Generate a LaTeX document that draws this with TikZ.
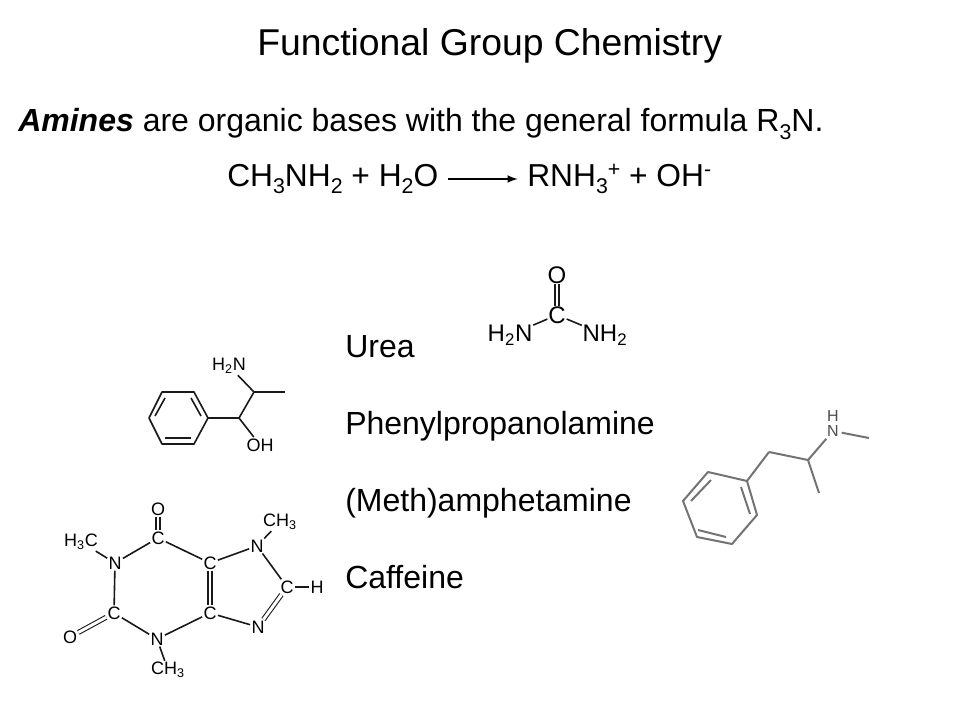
\documentclass[tikz,border=0pt]{standalone}
\usepackage{fontspec}
\setmainfont{Liberation Sans}
\newcommand{\lowidx}[1]{\raisebox{-5.5pt}{\fontsize{16}{16}\selectfont #1}}
\newcommand{\highidx}[1]{\raisebox{7pt}{\fontsize{16}{16}\selectfont #1}}
\tikzset{
  txt/.style={anchor=base west,inner sep=0pt,font=\fontsize{24}{28}\selectfont},
  eqn/.style={anchor=west,inner sep=0pt,text height=18pt,text depth=7pt,font=\fontsize{23.8}{28}\selectfont},
  ureaatom/.style={inner sep=0.5pt,font=\fontsize{18}{20}\selectfont},
  ppaatom/.style={inner sep=1pt,font=\fontsize{13.5}{15}\selectfont},
  cafatom/.style={inner sep=0.8pt,font=\fontsize{13.5}{15}\selectfont},
  methatom/.style={inner sep=0pt,text=black!70,font=\fontsize{12}{14}\selectfont},
  bond/.style={line width=1.2pt,color=black!90},
  dbl/.style={line width=0.8pt,double distance=2.2pt,color=black!90},
  methbond/.style={line width=1.5pt,color=black!55}
}

\begin{document}
\begin{tikzpicture}[x=0.75pt,y=0.75pt,yscale=-1,xscale=1]
\useasboundingbox (0,0) rectangle (960,720);

% Text Node
\node (title) [anchor=base west,inner sep=0pt,font=\fontsize{28}{32}\selectfont] at (257,56) {Functional Group Chemistry};
% Text Node
\node (intro) [txt] at (18,132) {\textbf{\textit{Amines}} are organic bases with the general formula R\lowidx{3}N.};
% Text Node
\node (lhs) [eqn] at (227,179) {CH\lowidx{3}NH\lowidx{2} + H\lowidx{2}O};
% Text Node
\node (rhs) [eqn] at (527,179) {RNH\lowidx{3}\highidx{+} + OH\highidx{-}};
\draw [line width=1.6pt,-latex,shorten <=7pt,shorten >=7pt] (lhs.east) -- (rhs.west);

% Text Node
\node (urealabel) [txt] at (345,357) {Urea};
% Text Node
\node (ppalabel) [txt] at (345,434) {Phenylpropanolamine};
% Text Node
\node (methlabel) [txt] at (345,511) {(Meth)amphetamine};
% Text Node
\node (caflabel) [txt] at (345,588) {Caffeine};

%Shape: Urea
\node (uc) [ureaatom] at (557,315) {C};
\node (uo) [ureaatom] at (557,275) {O};
\node (un1) [ureaatom] at (510,335) {H\textsubscript{2}N};
\node (un2) [ureaatom] at (605,335) {NH\textsubscript{2}};
\draw [dbl] (uc) -- (uo);
\draw [bond] (uc) -- (un1);
\draw [bond] (uc) -- (un2);

%Shape: Phenylpropanolamine
\coordinate (p1) at (149,418);
\coordinate (p2) at (162,392);
\coordinate (p3) at (194,392);
\coordinate (p4) at (208,418);
\coordinate (p5) at (194,444);
\coordinate (p6) at (162,444);
\coordinate (pa) at (239,418);
\coordinate (pb) at (254,392);
\coordinate (pc) at (285,392);
\node (pn) [ppaatom] at (229,366) {H\textsubscript{2}N};
\node (po) [ppaatom] at (260,445) {OH};
\draw [bond,line join=round] (p1) -- (p2) -- (p3) -- (p4) -- (p5) -- (p6) -- cycle;
\draw [bond] (p4) -- (pa);
\draw [bond] (pa) -- (pb);
\draw [bond] (pb) -- (pc);
\draw [bond] (pb) -- (pn);
\draw [bond] (pa) -- (po);
\coordinate (pi1) at (155,416);
\coordinate (pi2) at (165,398);
\coordinate (pi3) at (191,398);
\coordinate (pi4) at (201,416);
\coordinate (pi5) at (191,438);
\coordinate (pi6) at (165,438);
\draw [bond] (pi1) -- (pi2);
\draw [bond] (pi3) -- (pi4);
\draw [bond] (pi5) -- (pi6);

%Shape: Caffeine
\node (co1) [cafatom] at (158,509) {O};
\node (cc1) [cafatom] at (158,538) {C};
\node (cn1) [cafatom] at (115,563) {N};
\node (cc2) [cafatom] at (114,613) {C};
\node (co2) [cafatom] at (70,637) {O};
\node (cn2) [cafatom] at (157,639) {N};
\node (cm2) [cafatom] at (168,670) {CH\textsubscript{3}};
\node (cm1) [cafatom] at (81,542) {H\textsubscript{3}C};
\node (cc3) [cafatom] at (210,563) {C};
\node (cc4) [cafatom] at (210,613) {C};
\node (cn3) [cafatom] at (257,546) {N};
\node (cm3) [cafatom] at (280,522) {CH\textsubscript{3}};
\node (cc5) [cafatom] at (287,587) {C};
\node (ch) [cafatom] at (317,587) {H};
\node (cn4) [cafatom] at (258,627) {N};
\draw [dbl] (cc1) -- (co1);
\draw [bond] (cc1) -- (cn1);
\draw [bond] (cn1) -- (cc2);
\draw [dbl] (cc2) -- (co2);
\draw [bond] (cc2) -- (cn2);
\draw [bond] (cn2) -- (cc4);
\draw [bond] (cn2) -- (cm2);
\draw [bond] (cn1) -- (cm1);
\draw [bond] (cc1) -- (cc3);
\draw [dbl] (cc3) -- (cc4);
\draw [bond] (cc3) -- (cn3);
\draw [bond] (cn3) -- (cm3);
\draw [bond] (cn3) -- (cc5);
\draw [bond] (cc5) -- (ch);
\draw [dbl] (cc5) -- (cn4);
\draw [bond] (cn4) -- (cc4);

%Shape: Methamphetamine
\coordinate (m1) at (683,501);
\coordinate (m2) at (708,472);
\coordinate (m3) at (747,481);
\coordinate (m4) at (757,515);
\coordinate (m5) at (732,544);
\coordinate (m6) at (697,537);
\coordinate (ma) at (769,452);
\coordinate (mb) at (808,460);
\coordinate (mc) at (819,493);
\coordinate (md) at (869,438);
\node (mn) [methatom] at (833,431) {N};
\node (mh) [methatom] at (833,416) {H};
\draw [methbond,line join=round] (m1) -- (m2) -- (m3) -- (m4) -- (m5) -- (m6) -- cycle;
\draw [methbond] (m3) -- (ma);
\draw [methbond] (ma) -- (mb);
\draw [methbond] (mb) -- (mc);
\draw [methbond,shorten >=2pt] (mb) -- (mn);
\draw [methbond,shorten <=2pt] (mn) -- (md);
\coordinate (mi1) at (691,501);
\coordinate (mi2) at (711,480);
\coordinate (mi3) at (741,487);
\coordinate (mi4) at (750,514);
\coordinate (mi5) at (726,537);
\coordinate (mi6) at (698,530);
\draw [methbond] (mi1) -- (mi2);
\draw [methbond] (mi3) -- (mi4);
\draw [methbond] (mi5) -- (mi6);

\end{tikzpicture}
\end{document}
